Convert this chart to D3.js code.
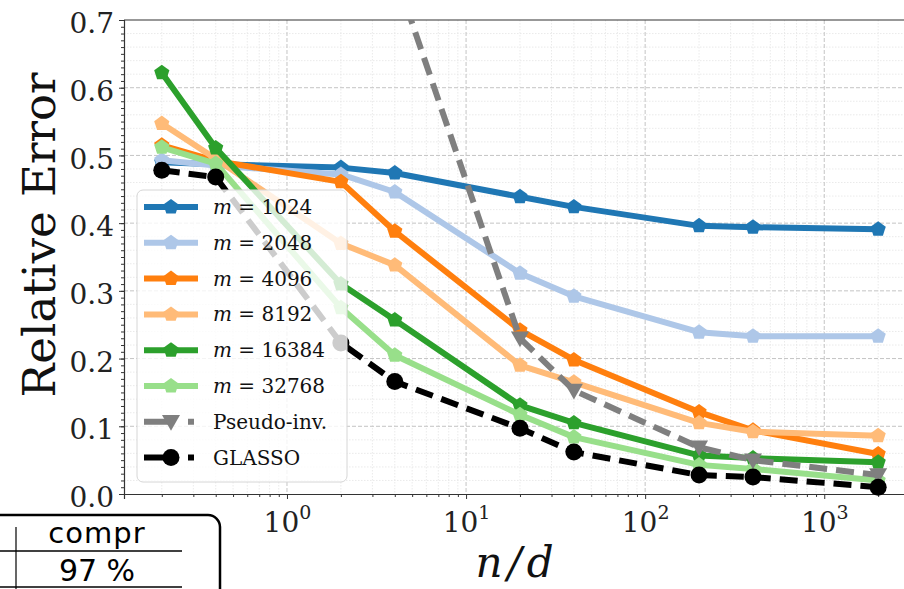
<!DOCTYPE html>
<html>
<head>
<meta charset="utf-8">
<script src="https://cdn.jsdelivr.net/npm/d3@7"></script>
<style>
  body { margin: 0; background: #fff; }
  svg { display: block; }
</style>
</head>
<body>
<script>
// n/d ratios and series
const ratios = [0.2, 0.4, 2, 4, 20, 40, 200, 400, 2000];
const sketchSizes = [1024, 2048, 4096, 8192, 16384, 32768];
const err1024 = [0.490, 0.487, 0.482, 0.474, 0.439, 0.424, 0.396, 0.394, 0.391];
const err2048 = [0.493, 0.485, 0.472, 0.446, 0.326, 0.292, 0.239, 0.233, 0.233];
const err4096 = [0.515, 0.492, 0.461, 0.388, 0.242, 0.198, 0.121, 0.094, 0.059];
const err8192 = [0.547, 0.495, 0.370, 0.338, 0.190, 0.165, 0.105, 0.092, 0.086];
const err16384 = [0.622, 0.511, 0.310, 0.257, 0.131, 0.105, 0.057, 0.053, 0.047];
const err32768 = [0.512, 0.488, 0.275, 0.205, 0.117, 0.084, 0.043, 0.037, 0.020];
const errPseudo = [9.0, 4.5, 1.6, 0.77, 0.230, 0.153, 0.069, 0.050, 0.028];
const errGlasso = [0.478, 0.468, 0.223, 0.166, 0.097, 0.062, 0.028, 0.025, 0.010];

const yTicks = [0, 0.1, 0.2, 0.3, 0.4, 0.5, 0.6, 0.7];
const xTickExps = [0, 1, 2, 3];
const tableHeader = "compr";
const tableValue = "97 %";

const width = 904;
const height = 589;
const plotLeft = 124, plotRight = 912, plotTop = 20, plotBottom = 494;
const serif = "'DejaVu Serif', serif";

const series = [
    { label: "1024", values: err1024, color: "#1f77b4", marker: "p" },
    { label: "2048", values: err2048, color: "#aec7e8", marker: "p" },
    { label: "4096", values: err4096, color: "#ff7f0e", marker: "p" },
    { label: "8192", values: err8192, color: "#ffbb78", marker: "p" },
    { label: "16384", values: err16384, color: "#2ca02c", marker: "p" },
    { label: "32768", values: err32768, color: "#98df8a", marker: "p" },
    { label: "Pseudo-inv.", values: errPseudo, color: "#7f7f7f", marker: "v", dashed: true },
    { label: "GLASSO", values: errGlasso, color: "#000000", marker: "o", dashed: true }
];

const svg = d3.select("body").append("svg")
    .attr("width", width)
    .attr("height", height);

const scaleX = d3.scaleLog()
    .domain([Math.pow(10, -0.91), Math.pow(10, 3.49)])
    .range([plotLeft, plotRight]);

const scaleY = d3.scaleLinear()
    .domain([0, 0.7])
    .range([plotBottom, plotTop]);

svg.append("defs").append("clipPath")
    .attr("id", "plot-clip")
    .append("rect")
    .attr("x", plotLeft).attr("y", plotTop)
    .attr("width", plotRight - plotLeft).attr("height", plotBottom - plotTop + 4);

// grid
const grid = svg.append("g");
const minorX = [];
for (let e = -1; e <= 3; e++) {
    for (let k = 2; k <= 9; k++) minorX.push(k * Math.pow(10, e));
}
const minorXIn = minorX.filter(v => scaleX(v) > plotLeft && scaleX(v) < plotRight);
grid.selectAll(".gx-minor")
    .data(minorXIn)
    .enter().append("line")
    .attr("x1", d => scaleX(d)).attr("x2", d => scaleX(d))
    .attr("y1", plotTop).attr("y2", plotBottom)
    .attr("stroke", "#e4e4e4").attr("stroke-width", 0.8)
    .attr("stroke-dasharray", "1.5,1.5");
grid.selectAll(".gy-minor")
    .data(d3.range(1, 35).map(i => i * 0.02).filter(v => Math.abs(v * 10 - Math.round(v * 10)) > 1e-6))
    .enter().append("line")
    .attr("x1", plotLeft).attr("x2", plotRight)
    .attr("y1", d => scaleY(d)).attr("y2", d => scaleY(d))
    .attr("stroke", "#e4e4e4").attr("stroke-width", 0.8)
    .attr("stroke-dasharray", "1.5,1.5");
grid.selectAll(".gx-major")
    .data(xTickExps)
    .enter().append("line")
    .attr("x1", d => scaleX(Math.pow(10, d))).attr("x2", d => scaleX(Math.pow(10, d)))
    .attr("y1", plotTop).attr("y2", plotBottom)
    .attr("stroke", "#c4c4c4").attr("stroke-width", 1)
    .attr("stroke-dasharray", "4,2");
grid.selectAll(".gy-major")
    .data(yTicks.slice(1, -1))
    .enter().append("line")
    .attr("x1", plotLeft).attr("x2", plotRight)
    .attr("y1", d => scaleY(d)).attr("y2", d => scaleY(d))
    .attr("stroke", "#c4c4c4").attr("stroke-width", 1)
    .attr("stroke-dasharray", "4,2");

// axes
const yAxis = d3.axisLeft(scaleY)
    .tickValues(yTicks)
    .tickFormat(d3.format(".1f"))
    .tickSize(5);
const yAxisG = svg.append("g")
    .attr("transform", `translate(${plotLeft},0)`)
    .call(yAxis);
yAxisG.selectAll("text")
    .style("font-family", serif)
    .style("font-size", "28px")
    .attr("x", -10)
    .attr("dy", "0.45em")
    .attr("fill", "#222");

svg.append("g")
    .attr("transform", `translate(${plotLeft},0)`)
    .call(d3.axisLeft(scaleY).tickValues(d3.range(0, 71).map(i => i / 100)).tickSize(3).tickFormat(""))
    .select(".domain").remove();

const xAxis = d3.axisBottom(scaleX)
    .tickValues(xTickExps.map(e => Math.pow(10, e)))
    .tickFormat("")
    .tickSize(5);
const xAxisG = svg.append("g")
    .attr("transform", `translate(0,${plotBottom})`)
    .call(xAxis);
svg.append("g")
    .attr("transform", `translate(0,${plotBottom})`)
    .call(d3.axisBottom(scaleX).tickValues(minorXIn).tickSize(3).tickFormat(""))
    .select(".domain").remove();

xAxisG.selectAll(".tick")
    .append("text")
    .attr("y", 38)
    .attr("text-anchor", "middle")
    .attr("fill", "#222")
    .style("font-family", serif)
    .style("font-size", "28px")
    .each(function(d) {
        const t = d3.select(this);
        t.append("tspan").text("10");
        t.append("tspan").attr("dy", -13).style("font-size", "19px").text(Math.round(Math.log10(d)));
    });

svg.selectAll(".domain").attr("stroke", "#333").attr("stroke-width", 1.2);
svg.selectAll(".tick line").attr("stroke", "#333");

// top spine
svg.append("line")
    .attr("x1", plotLeft).attr("x2", plotRight)
    .attr("y1", plotTop).attr("y2", plotTop)
    .attr("stroke", "#333").attr("stroke-width", 1.2);

// markers
function markerPath(type, r) {
    if (type === "o") {
        return d3.symbol(d3.symbolCircle, Math.PI * r * r)();
    }
    if (type === "v") {
        return `M${-r},${-r * 0.75}L${r},${-r * 0.75}L0,${r * 1.0}Z`;
    }
    const pts = d3.range(5).map(i => {
        const a = -Math.PI / 2 + i * 2 * Math.PI / 5;
        return [r * Math.cos(a), r * Math.sin(a)];
    });
    return "M" + pts.map(p => p.join(",")).join("L") + "Z";
}
const markerSize = { p: 8, v: 9, o: 8.5 };

const plot = svg.append("g").attr("clip-path", "url(#plot-clip)");
const line = d3.line()
    .x((d, i) => scaleX(ratios[i]))
    .y(d => scaleY(d));

series.forEach(s => {
    const g = plot.append("g");
    g.append("path")
        .datum(s.values)
        .attr("d", line)
        .attr("fill", "none")
        .attr("stroke", s.color)
        .attr("stroke-width", 6)
        .attr("stroke-linejoin", "round")
        .attr("stroke-dasharray", s.dashed ? "18,9" : null);
    g.selectAll("path.mk")
        .data(s.values)
        .enter().append("path")
        .attr("class", "mk")
        .attr("transform", (d, i) => `translate(${scaleX(ratios[i])},${scaleY(d)})`)
        .attr("d", markerPath(s.marker, markerSize[s.marker]))
        .attr("fill", s.color);
});

// legend
const legend = svg.append("g");
legend.append("rect")
    .attr("x", 137).attr("y", 190)
    .attr("width", 210).attr("height", 292)
    .attr("rx", 6)
    .attr("fill", "#fff").attr("fill-opacity", 0.8)
    .attr("stroke", "#d6d6d6").attr("stroke-width", 1);

series.forEach((s, i) => {
    const cy = 207 + i * 35.8;
    const row = legend.append("g");
    row.append("line")
        .attr("x1", 144).attr("x2", 198)
        .attr("y1", cy).attr("y2", cy)
        .attr("stroke", s.color)
        .attr("stroke-width", 6)
        .attr("stroke-dasharray", s.dashed ? "27,17,6,100" : null);
    row.append("path")
        .attr("transform", `translate(171,${cy})`)
        .attr("d", markerPath(s.marker, markerSize[s.marker]))
        .attr("fill", s.color);
    const t = row.append("text")
        .attr("x", 213).attr("y", cy + 7)
        .attr("fill", "#111")
        .style("font-family", serif)
        .style("font-size", "20px");
    if (s.dashed) {
        t.text(s.label);
    } else {
        t.append("tspan").style("font-style", "italic").text("m");
        t.append("tspan").text(" = " + s.label);
    }
});

// axis labels
svg.append("text")
    .attr("transform", "translate(55,235) rotate(-90)")
    .attr("text-anchor", "middle")
    .attr("fill", "#111")
    .style("font-family", serif)
    .style("font-size", "45px")
    .text("Relative Error");

svg.append("text")
    .attr("x", 517).attr("y", 577)
    .attr("text-anchor", "middle")
    .attr("fill", "#111")
    .style("font-family", serif)
    .style("font-style", "italic")
    .style("font-size", "42px")
    .style("letter-spacing", "5px")
    .text("n/d");

// table fragment in the lower left corner
const table = svg.append("g");
table.append("rect")
    .attr("x", -30).attr("y", 515)
    .attr("width", 250).attr("height", 120)
    .attr("rx", 12)
    .attr("fill", "#fff")
    .attr("stroke", "#000").attr("stroke-width", 2.5);
table.append("line")
    .attr("x1", 16).attr("x2", 16).attr("y1", 527).attr("y2", 589)
    .attr("stroke", "#000").attr("stroke-width", 1.2);
table.append("line")
    .attr("x1", 0).attr("x2", 182).attr("y1", 551).attr("y2", 551)
    .attr("stroke", "#000").attr("stroke-width", 1.5);
table.append("line")
    .attr("x1", 0).attr("x2", 182).attr("y1", 587).attr("y2", 587)
    .attr("stroke", "#000").attr("stroke-width", 1.5);
table.append("text")
    .attr("x", 97).attr("y", 543)
    .attr("text-anchor", "middle")
    .style("font-family", "'DejaVu Sans', sans-serif")
    .style("font-size", "29px")
    .style("letter-spacing", "1px")
    .text(tableHeader);
table.append("text")
    .attr("x", 97).attr("y", 581)
    .attr("text-anchor", "middle")
    .style("font-family", "'DejaVu Sans', sans-serif")
    .style("font-size", "30px")
    .text(tableValue);
</script>
</body>
</html>
